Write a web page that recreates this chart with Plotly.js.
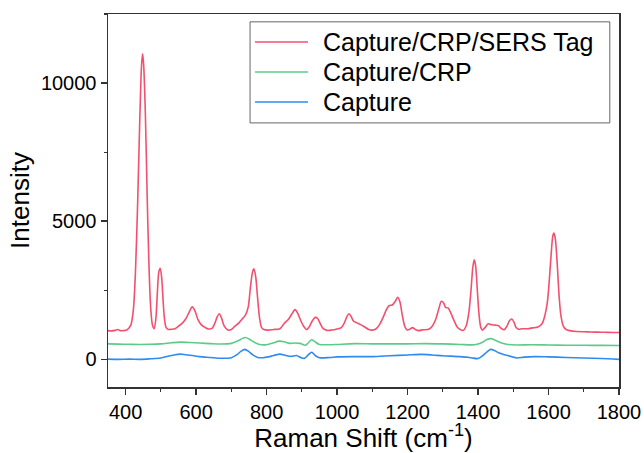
<!DOCTYPE html>
<html>
<head>
<meta charset="utf-8">
<script src="https://cdn.plot.ly/plotly-3.0.1.min.js"></script>
<style>html,body{margin:0;padding:0;background:#fff;}#chart{width:644px;height:453px;}</style>
</head>
<body>
<div id="chart"></div>
<script>
// Raman shift (cm^-1) and intensity for each spectrum
const redX = [350,360,370,378,385,395,405,415,422,428,434,440,445,448,451,456,461,466,471,476,481,486,490,494,498,502,506,510,515,522,530,540,550,560,570,580,589,597,605,615,625,635,645,653,660,666,672,680,690,700,710,720,730,740,748,754,760,764,769,774,780,786,792,805,820,838,850,862,872,881,889,897,905,914,922,930,938,945,952,960,971,985,1000,1012,1020,1028,1034,1040,1047,1060,1075,1090,1100,1110,1120,1130,1140,1148,1157,1165,1172,1178,1185,1192,1198,1205,1214,1222,1230,1245,1260,1270,1280,1288,1296,1302,1308,1315,1322,1332,1342,1352,1358,1366,1374,1380,1385,1389,1393,1398,1403,1408,1413,1420,1429,1438,1450,1458,1466,1474,1482,1489,1496,1502,1508,1515,1525,1540,1555,1570,1582,1590,1597,1603,1608,1612,1615,1619,1624,1630,1635,1642,1650,1660,1680,1700,1720,1740,1760,1780,1800];
const redY = [1040,1030,1050,1080,1040,1040,1080,1250,1800,3200,5600,8600,10600,11060,10700,8900,6000,3500,1900,1250,1110,1500,2400,3150,3300,3000,2200,1500,1150,1080,1090,1110,1200,1300,1450,1700,1900,1750,1450,1250,1160,1100,1120,1300,1550,1650,1500,1200,1060,1080,1200,1300,1450,1600,1900,2600,3150,3280,3000,2300,1500,1150,1080,1060,1080,1110,1300,1450,1650,1800,1650,1400,1200,1080,1200,1400,1520,1480,1300,1120,1050,1060,1100,1150,1300,1550,1650,1550,1380,1300,1200,1080,1060,1100,1250,1500,1800,1950,1970,2100,2250,2100,1600,1200,1070,1080,1150,1080,1040,1070,1090,1200,1450,1800,2100,2050,1880,1860,1700,1400,1150,1060,1050,1200,1700,2500,3300,3600,3400,2500,1600,1150,1060,1150,1290,1250,1240,1220,1120,1070,1200,1400,1460,1350,1150,1090,1110,1110,1140,1170,1300,1600,2100,3000,3900,4450,4570,4400,3600,2300,1600,1200,1080,1040,1010,1000,990,985,980,975,970];

const greenX = [350,380,410,440,470,500,530,555,580,610,640,670,700,720,732,740,750,765,780,800,820,835,850,865,880,895,910,920,928,937,950,980,1000,1050,1100,1150,1200,1250,1300,1350,1390,1410,1425,1436,1448,1465,1485,1510,1550,1600,1650,1700,1750,1800];
const greenY = [560,550,545,540,545,560,600,625,610,590,570,555,580,680,760,790,740,620,540,530,600,660,640,580,590,580,510,620,710,640,540,530,540,570,560,560,560,570,560,540,530,600,720,750,700,600,540,520,530,520,510,510,505,500];

const blueX = [350,380,410,440,470,500,520,540,555,570,590,610,640,670,700,715,728,738,748,760,775,790,805,820,838,855,870,885,898,908,918,928,938,950,980,1000,1050,1100,1150,1200,1240,1270,1300,1350,1380,1400,1415,1428,1436,1448,1460,1475,1495,1510,1530,1560,1600,1650,1700,1750,1800];
const blueY = [10,0,10,0,20,50,110,170,190,170,140,100,70,40,60,160,300,360,300,170,70,60,90,140,190,140,110,140,60,40,160,260,140,60,70,90,100,100,130,160,180,160,130,100,60,30,150,300,360,310,230,170,100,50,80,100,90,70,50,30,0];

const seriesNames = ['Capture/CRP/SERS Tag', 'Capture/CRP', 'Capture'];
const seriesColors = ['#f2506e', '#5ccb8a', '#2e8cf0'];
const xTickVals = [400,600,800,1000,1200,1400,1600,1800];
const yTickVals = [0,5000,10000];

const FONT = 'Arial, "Liberation Sans", sans-serif';
const seriesX = [redX, greenX, blueX];
const seriesY = [redY, greenY, blueY];
const traces = seriesNames.map((n, i) => ({
  x: seriesX[i], y: seriesY[i], name: n, type: 'scatter', mode: 'lines',
  line: {color: seriesColors[i], width: 1.6, shape: 'spline', smoothing: 0.8}
}));

// Legend box drawn in paper coordinates (fixed row spacing like the reference)
const legX0 = 0.278, legX1 = 0.982, legY0 = 0.708, legY1 = 0.979;
const rowY = [0.925, 0.8445, 0.764];
const shapes = [{type: 'rect', xref: 'paper', yref: 'paper', x0: legX0, x1: legX1, y0: legY0, y1: legY1,
  line: {color: '#666', width: 1}, fillcolor: 'rgba(0,0,0,0)'}];
const annotations = [];
seriesNames.forEach((n, i) => {
  shapes.push({type: 'line', xref: 'paper', yref: 'paper', x0: 0.2877, x1: 0.3914, y0: rowY[i], y1: rowY[i],
    line: {color: seriesColors[i], width: 1.6}});
  annotations.push({xref: 'paper', yref: 'paper', x: 0.416, y: rowY[i], xanchor: 'left', yanchor: 'middle',
    text: n, showarrow: false, font: {family: FONT, size: 25, color: '#000'}});
});

const layout = {
  width: 644, height: 453,
  margin: {l: 108, r: 25, t: 14, b: 66},
  paper_bgcolor: '#ffffff', plot_bgcolor: '#ffffff',
  font: {family: FONT, color: '#000'},
  showlegend: false,
  shapes: shapes,
  annotations: annotations,
  xaxis: {range: [350, 1800], tickvals: xTickVals, ticks: 'outside', ticklen: 6, tickwidth: 1.5,
    tickcolor: '#333', showline: true, linecolor: '#333', linewidth: 1.5, mirror: true,
    showgrid: false, zeroline: false,
    minor: {dtick: 100, tick0: 0, ticks: 'outside', ticklen: 3, tickwidth: 1.2, tickcolor: '#333'},
    tickfont: {family: FONT, size: 20, color: '#000'},
    title: {text: 'Raman Shift (cm<sup>-1</sup>)', font: {family: FONT, size: 26, color: '#000'}, standoff: 7}},
  yaxis: {range: [-1000, 12500], tickvals: yTickVals, tickformat: 'd', ticks: 'outside', ticklen: 6, tickwidth: 1.5,
    tickcolor: '#333', showline: true, linecolor: '#333', linewidth: 1.5, mirror: true,
    showgrid: false, zeroline: false,
    minor: {dtick: 2500, tick0: 0, ticks: 'outside', ticklen: 3, tickwidth: 1.2, tickcolor: '#333'},
    tickfont: {family: FONT, size: 20, color: '#000'},
    title: {text: 'Intensity', font: {family: FONT, size: 26, color: '#000'}, standoff: 4}}
};

Plotly.newPlot('chart', traces, layout, {displayModeBar: false, staticPlot: true});
</script>
</body>
</html>
